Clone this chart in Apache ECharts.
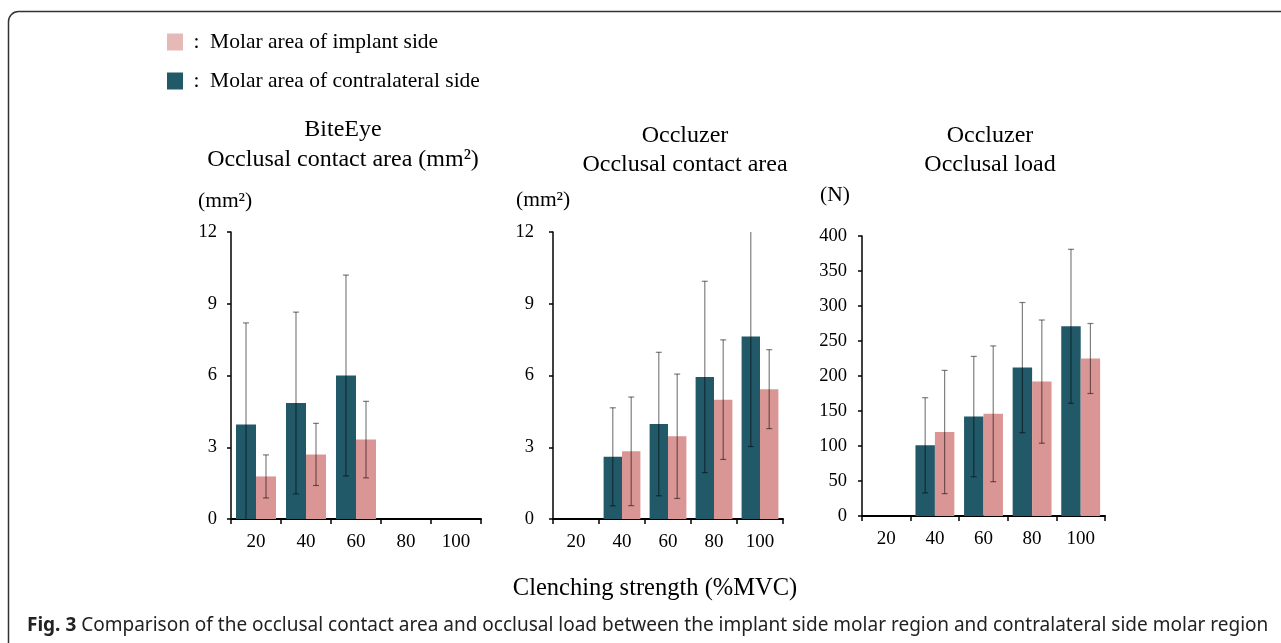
<!DOCTYPE html>
<html>
<head>
<meta charset="utf-8">
<script src="https://cdn.jsdelivr.net/npm/echarts@6/dist/echarts.min.js"></script>
<style>
  html, body { margin: 0; padding: 0; background: #fff; }
  #ech { width: 1281px; height: 643px; }
</style>
</head>
<body>
<div id="ech"></div>
<script>
// categories (%MVC)
var categories = ['20', '40', '60', '80', '100'];

// BiteEye, occlusal contact area (mm2)
var biteContra = [3.95, 4.85, 6.0, null, null];
var biteContraSd = [4.25, 3.8, 4.2, null, null];
var biteImplant = [1.78, 2.7, 3.32, null, null];
var biteImplantSd = [0.9, 1.3, 1.6, null, null];

// Occluzer, occlusal contact area (mm2)
var areaContra = [null, 2.6, 3.97, 5.94, 7.63];
var areaContraSd = [null, 2.05, 3.0, 4.0, 4.6];
var areaImplant = [null, 2.83, 3.46, 4.99, 5.43];
var areaImplantSd = [null, 2.27, 2.6, 2.5, 1.65];

// Occluzer, occlusal load (N)
var loadContra = [null, 101, 142, 212, 271];
var loadContraSd = [null, 68, 86, 93, 110];
var loadImplant = [null, 120, 146, 192, 225];
var loadImplantSd = [null, 88, 97, 88, 50];

var implantName = 'Molar area of implant side';
var contraName = 'Molar area of contralateral side';
var dark = '#215968', pink = '#d99694';
var serif = '"Liberation Serif", "DejaVu Serif", serif';

function errData(means, sds) {
    var out = [];
    for (var i = 0; i < means.length; i++) {
        if (means[i] != null) out.push([i, means[i], sds[i]]);
    }
    return out;
}

// error bars drawn over the bars; sign -1 = left bar, +1 = right bar
function errSeries(means, sds, gi, sign, max) {
    return {
        type: 'custom',
        xAxisIndex: gi, yAxisIndex: gi,
        z: 5,
        silent: true,
        encode: {x: 0, y: 1},
        data: errData(means, sds),
        renderItem: function (params, api) {
            var idx = api.value(0), mean = api.value(1), sd = api.value(2);
            var hi = mean + sd, lo = mean - sd;
            var hiClip = hi > max, loClip = lo < 0;
            hi = Math.min(hi, max); lo = Math.max(lo, 0);
            var band = api.size([1, 0])[0];
            var cx = api.coord([idx, 0])[0] + sign * band * 0.2;
            var yh = api.coord([idx, hi])[1], yl = api.coord([idx, lo])[1];
            var st = {stroke: 'rgba(0,0,0,0.5)', lineWidth: 1.2};
            var kids = [{type: 'line', shape: {x1: cx, y1: yh, x2: cx, y2: yl}, style: st}];
            if (!hiClip) kids.push({type: 'line', shape: {x1: cx - 3, y1: yh, x2: cx + 3, y2: yh}, style: st});
            if (!loClip) kids.push({type: 'line', shape: {x1: cx - 3, y1: yl, x2: cx + 3, y2: yl}, style: st});
            return {type: 'group', children: kids};
        }
    };
}

function barSeries(name, data, color, gi) {
    return {
        name: name, type: 'bar',
        xAxisIndex: gi, yAxisIndex: gi,
        data: data,
        barGap: '0%', barCategoryGap: '20%',
        itemStyle: {color: color},
        silent: true
    };
}

function xAxis(gi) {
    return {
        type: 'category', gridIndex: gi, data: categories,
        axisLine: {lineStyle: {color: '#000', width: 2}},
        axisTick: {show: true, length: 5, lineStyle: {color: '#000', width: 1.5}},
        axisLabel: {color: '#000', fontSize: 19, fontFamily: serif, margin: 14}
    };
}

function yAxis(gi, max, interval, margin) {
    return {
        type: 'value', gridIndex: gi, min: 0, max: max, interval: interval,
        splitLine: {show: false},
        axisLine: {show: true, lineStyle: {color: '#000', width: 1.5}},
        axisTick: {show: true, length: 4, lineStyle: {color: '#000', width: 1.5}},
        axisLabel: {color: '#000', fontSize: 18.5, fontFamily: serif, margin: margin}
    };
}

function txt(x, y, text, size, align) {
    return {
        type: 'text', x: x, y: y,
        style: {text: text, fill: '#000', font: size + 'px ' + serif,
                textAlign: align || 'center', textVerticalAlign: 'middle'}
    };
}

var ownChart = echarts.init(document.getElementById('ech'));
var option = {
    animation: false,
    backgroundColor: '#fff',
    legend: {
        orient: 'vertical', left: 167, top: 31, padding: 0,
        itemWidth: 16, itemHeight: 17, itemGap: 17,
        selectedMode: false,
        icon: 'rect',
        formatter: function (n) { return ' :  ' + n; },
        textStyle: {color: '#000', fontSize: 21.5, fontFamily: serif},
        data: [
            {name: implantName, itemStyle: {color: '#e6b9b8'}},
            {name: contraName, itemStyle: {color: dark}}
        ]
    },
    grid: [
        {left: 231, top: 232, width: 250, height: 287},
        {left: 553, top: 232, width: 230, height: 287},
        {left: 862, top: 236, width: 243, height: 280}
    ],
    xAxis: [xAxis(0), xAxis(1), xAxis(2)],
    yAxis: [yAxis(0, 12, 3, 14), yAxis(1, 12, 3, 19), yAxis(2, 400, 50, 15)],
    series: [
        barSeries(contraName, biteContra, dark, 0),
        barSeries(implantName, biteImplant, pink, 0),
        barSeries(contraName, areaContra, dark, 1),
        barSeries(implantName, areaImplant, pink, 1),
        barSeries(contraName, loadContra, dark, 2),
        barSeries(implantName, loadImplant, pink, 2),
        errSeries(biteContra, biteContraSd, 0, -1, 12),
        errSeries(biteImplant, biteImplantSd, 0, 1, 12),
        errSeries(areaContra, areaContraSd, 1, -1, 12),
        errSeries(areaImplant, areaImplantSd, 1, 1, 12),
        errSeries(loadContra, loadContraSd, 2, -1, 400),
        errSeries(loadImplant, loadImplantSd, 2, 1, 400)
    ],
    graphic: [
        // figure frame
        {type: 'rect', shape: {x: 8.5, y: 11.5, width: 1300, height: 700, r: 10},
         style: {fill: null, stroke: '#333', lineWidth: 1.5}, silent: true},
        // panel titles
        txt(343, 130, 'BiteEye', 24),
        txt(343, 160, 'Occlusal contact area (mm²)', 24),
        txt(685, 136, 'Occluzer', 24),
        txt(685, 165, 'Occlusal contact area', 24),
        txt(990, 136, 'Occluzer', 24),
        txt(990, 165, 'Occlusal load', 24),
        // units
        txt(198, 201, '(mm²)', 21.5, 'left'),
        txt(516, 200, '(mm²)', 21.5, 'left'),
        txt(820, 195, '(N)', 21.5, 'left'),
        // x axis title
        txt(655, 589, 'Clenching strength (%MVC)', 24.5),
        // caption
        {type: 'text', x: 27, y: 626,
         style: {
             text: '{b|Fig. 3} Comparison of the occlusal contact area and occlusal load between the implant side molar region and contralateral side molar region',
             fill: '#222', font: '19px "Noto Sans", sans-serif',
             textAlign: 'left', textVerticalAlign: 'middle',
             rich: {b: {fontWeight: 'bold', fontSize: 19, fontFamily: '"Noto Sans", sans-serif', fill: '#222'}}
         }}
    ]
};
ownChart.setOption(option);
</script>
</body>
</html>
